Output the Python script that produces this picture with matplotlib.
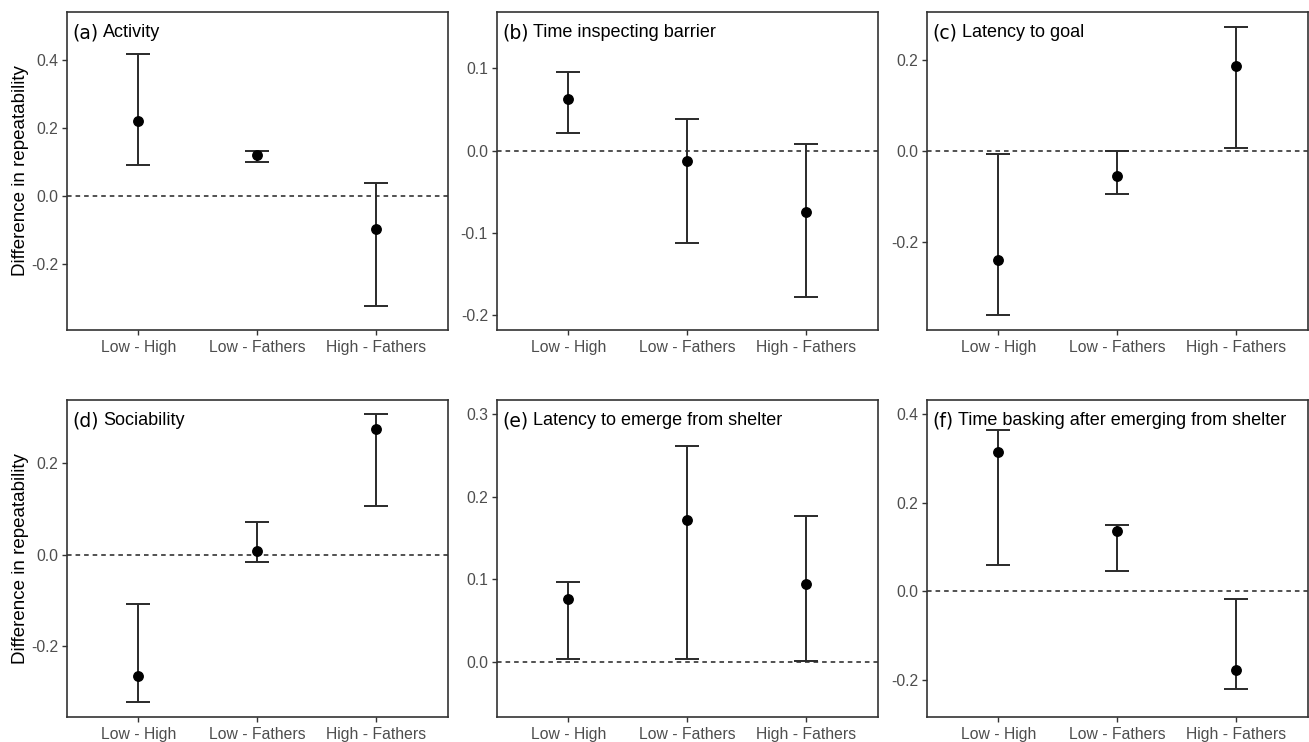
import matplotlib
matplotlib.use("Agg")
import matplotlib.pyplot as plt

categories = ["Low - High", "Low - Fathers", "High - Fathers"]

titles = ["Activity", "Time inspecting barrier", "Latency to goal",
          "Sociability", "Latency to emerge from shelter",
          "Time basking after emerging from shelter"]
letters = ["(a)", "(b)", "(c)", "(d)", "(e)", "(f)"]

est_a = [0.221, 0.121, -0.097]
lo_a = [0.093, 0.101, -0.321]
hi_a = [0.419, 0.134, 0.038]

est_b = [0.063, -0.0125, -0.075]
lo_b = [0.022, -0.1125, -0.178]
hi_b = [0.0956, 0.0385, 0.0085]

est_c = [-0.240, -0.056, 0.186]
lo_c = [-0.362, -0.094, 0.007]
hi_c = [-0.0066, 0.0, 0.271]

est_d = [-0.264, 0.008, 0.2745]
lo_d = [-0.322, -0.0167, 0.106]
hi_d = [-0.1075, 0.072, 0.306]

est_e = [0.0763, 0.1715, 0.0948]
lo_e = [0.004, 0.004, 0.0012]
hi_e = [0.0965, 0.2615, 0.1768]

est_f = [0.3137, 0.1368, -0.1783]
lo_f = [0.0594, 0.0451, -0.220]
hi_f = [0.364, 0.149, -0.0173]

ests = [est_a, est_b, est_c, est_d, est_e, est_f]
los = [lo_a, lo_b, lo_c, lo_d, lo_e, lo_f]
his = [hi_a, hi_b, hi_c, hi_d, hi_e, hi_f]

ylims = [(-0.393, 0.542), (-0.218, 0.1685), (-0.394, 0.305),
         (-0.353, 0.337), (-0.0662, 0.317), (-0.283, 0.432)]
yticks = [[-0.2, 0.0, 0.2, 0.4], [-0.2, -0.1, 0.0, 0.1], [-0.2, 0.0, 0.2],
          [-0.2, 0.0, 0.2], [0.0, 0.1, 0.2, 0.3], [-0.2, 0.0, 0.2, 0.4]]

W, H = 1309, 742
fig = plt.figure(figsize=(W / 100, H / 100), dpi=100)

lefts = [67, 497, 927]
aw = 380.7
rows = [(12, 330), (400, 716.7)]

tick_col = "#4D4D4D"
sans = ["Liberation Sans", "DejaVu Sans"]
pref = ["DejaVu Sans"]

for i in range(6):
    r, c = divmod(i, 3)
    top, bot = rows[r]
    ax = fig.add_axes([lefts[c] / W, 1 - bot / H, aw / W, (bot - top) / H])
    x = list(range(1, len(categories) + 1))
    est, lo, hi = ests[i], los[i], his[i]
    yerr = [[e - l for e, l in zip(est, lo)], [h - e for e, h in zip(est, hi)]]
    ax.axhline(0, color="#222222", lw=1.1, linestyle=(0, (3, 2.6)), zorder=1)
    ax.errorbar(x, est, yerr=yerr, fmt="o", color="black", ecolor="#2a2a2a",
                elinewidth=1.4, capsize=8.3, capthick=1.4, markersize=6.8, zorder=3)
    ax.set_xlim(0.4, 3.6)
    ax.set_ylim(*ylims[i])
    ax.set_xticks(x)
    ax.set_xticklabels(categories)
    ax.set_yticks(yticks[i])
    ax.set_yticklabels([f"{v:.1f}" for v in yticks[i]])
    for lab in ax.get_xticklabels() + ax.get_yticklabels():
        lab.set_family(sans)
        lab.set_fontsize(11.3)
        lab.set_color(tick_col)
    ax.tick_params(axis="both", direction="out", length=3.5, width=1.0,
                   color="#333333", pad=3)
    ax.tick_params(axis="x", pad=4)
    for s in ax.spines.values():
        s.set_color("#333333")
        s.set_linewidth(1.2)
    ax.set_facecolor("white")
    t1 = ax.text(0.013, 0.965, letters[i], transform=ax.transAxes,
                 ha="left", va="top", fontsize=13.5, family=pref, color="black")
    fig.canvas.draw()
    bb = t1.get_window_extent()
    inv = ax.transAxes.inverted()
    x1 = inv.transform((bb.x1 + 5, bb.y1))[0]
    ax.text(x1, 0.963, titles[i], transform=ax.transAxes,
            ha="left", va="top", fontsize=13, family=sans, color="black")

for r in range(2):
    top, bot = rows[r]
    fig.text(21 / W, 1 - ((top + bot) / 2) / H, "Difference in repeatability",
             rotation=90, ha="center", va="center", fontsize=13.5, family=sans,
             color="black")

fig.savefig("out.png", dpi=100, facecolor="white")
